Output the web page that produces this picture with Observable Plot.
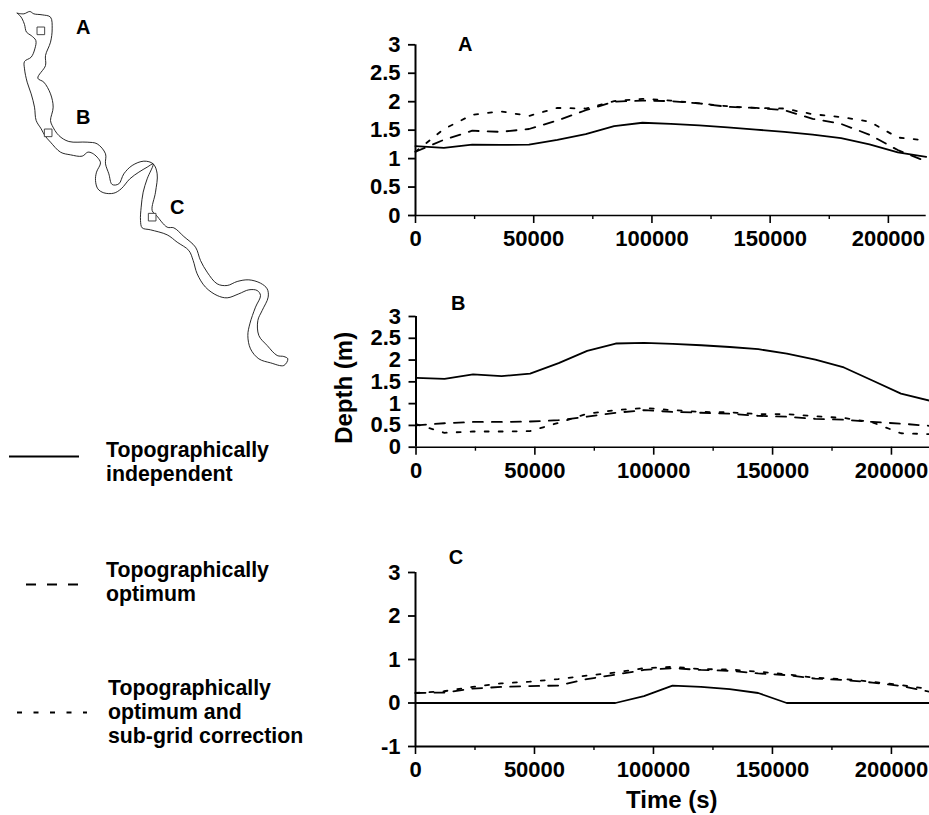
<!DOCTYPE html>
<html><head><meta charset="utf-8">
<script src="https://cdn.jsdelivr.net/npm/d3@7"></script>
<script src="https://cdn.jsdelivr.net/npm/@observablehq/plot@0.6"></script>
<style>
html,body{margin:0;padding:0;background:#fff;overflow:hidden;width:929px;height:815px}
#page{position:relative;width:929px;height:815px;font-family:"Liberation Sans",Arial,sans-serif;font-weight:bold;color:#000}
#page>svg{position:absolute;overflow:visible}
.leg{position:absolute;font-size:21.3px;line-height:24px;white-space:nowrap}
</style></head><body><div id="page"></div>
<script>
const times = [0,12000,24000,36000,48000,60000,72000,84000,96000,108000,120000,132000,144000,156000,168000,180000,192000,204000,216000];
const seriesNames = ["Topographically independent","Topographically optimum","Topographically optimum and sub-grid correction"];
const dashes = ["none","10 9","4 10"];

const aIndependent = [1.22,1.19,1.245,1.24,1.245,1.33,1.43,1.57,1.63,1.61,1.585,1.55,1.51,1.47,1.42,1.36,1.25,1.11,1.03];
const aOptimum     = [1.12,1.33,1.49,1.47,1.52,1.67,1.85,2.0,2.02,2.01,1.97,1.91,1.89,1.85,1.70,1.61,1.42,1.15,0.95];
const aSubgrid     = [1.12,1.52,1.77,1.83,1.75,1.89,1.88,2.01,2.05,2.02,1.97,1.92,1.89,1.88,1.78,1.73,1.65,1.37,1.32];

const bIndependent = [1.59,1.57,1.67,1.63,1.69,1.93,2.21,2.38,2.395,2.37,2.34,2.30,2.25,2.15,2.01,1.83,1.53,1.23,1.07];
const bOptimum     = [0.5,0.55,0.58,0.58,0.59,0.62,0.70,0.79,0.85,0.81,0.79,0.77,0.72,0.70,0.65,0.63,0.58,0.54,0.49];
const bSubgrid     = [0.53,0.33,0.36,0.36,0.37,0.56,0.77,0.85,0.90,0.85,0.81,0.80,0.76,0.76,0.71,0.67,0.57,0.32,0.30];

const cIndependent = [0,0,0,0,0,0,0,0,0.16,0.40,0.37,0.32,0.23,0,0,0,0,0,0];
const cOptimum     = [0.23,0.24,0.33,0.37,0.39,0.40,0.55,0.65,0.76,0.80,0.76,0.74,0.68,0.64,0.56,0.53,0.47,0.39,0.26];
const cSubgrid     = [0.23,0.27,0.37,0.45,0.49,0.55,0.63,0.70,0.80,0.83,0.78,0.77,0.72,0.66,0.58,0.55,0.49,0.41,0.32];

const xMajor = [0,50000,100000,150000,200000];
const xMinor = [25000,75000,125000,175000];
const yTicksAB = [0,0.5,1,1.5,2,2.5,3];
const yTicksC = [-1,0,1,2,3];

const riverBank = [[50,38],[58,45],[65,55],[72,72],[78,95],[92,105],[106,120],[103,145],[92,170],[72,183],[72,205],[80,245],[92,280],[102,320],[107,360],[122,385],[133,405],[150,425],[180,455],[210,463],[245,467],[262,455],[275,458],[290,470],[300,487],[288,515],[285,540],[292,565],[310,577],[340,578],[362,565],[388,535],[415,515],[440,500],[458,490],[440,535],[428,575],[422,620],[420,660],[425,682],[450,688],[500,703],[530,725],[565,750],[578,780],[590,820],[615,860],[650,885],[680,892],[715,880],[745,868],[770,870],[780,885],[765,920],[748,970],[742,1005],[750,1045],[775,1075],[810,1087],[850,1095],[862,1075],[850,1068],[830,1065],[800,1035],[775,1005],[772,960],[785,930],[803,890],[800,865],[780,848],[745,838],[710,843],[680,855],[650,850],[620,815],[600,780],[585,740],[550,708],[520,682],[500,680],[468,645],[455,630],[465,575],[470,520],[458,490],[430,482],[395,495],[370,520],[355,550],[335,552],[325,520],[315,490],[315,460],[290,430],[260,425],[205,423],[175,405],[155,375],[150,360],[158,320],[150,280],[130,245],[112,233],[135,195],[135,165],[150,125],[155,85],[150,50],[125,43],[100,40],[88,33],[70,40],[50,38]];
const gauges = [{name:"A",x:121,y:91,lx:248,ly:82},{name:"B",x:143,y:397,lx:248,ly:350},{name:"C",x:455,y:650,lx:530,ly:620}];

const page = document.getElementById("page");
const font = {fontFamily:'"Liberation Sans",Arial,sans-serif',fontWeight:"bold",background:"none",color:"#000"};
const tickFont = 22;
function place(svg,left,top){svg.style.left=left+"px";svg.style.top=top+"px";page.appendChild(svg);}

function panel({label,labelX,labelY,series,yDomain,yTicks,left,top,marginLeft,marginRight,marginTop,frameH,marginBottom,extra=[],xLine=1.6}){
  const rows = series.flatMap((vals,i)=>vals.map((v,j)=>({t:times[j],v,s:i})));
  const svg = Plot.plot({
    width:929-left,height:marginTop+frameH+marginBottom,marginLeft,marginRight,marginTop,marginBottom,
    style:font,
    x:{domain:[0,216000]},y:{domain:yDomain},
    marks:[
      Plot.axisX({ticks:xMajor,tickSize:8,tickPadding:7,tickFormat:String,strokeWidth:1.6,label:null,fontSize:tickFont,fontWeight:"bold"}),
      Plot.axisX({ticks:xMinor,tickSize:4,tickFormat:()=>"",strokeWidth:1.4,label:null}),
      Plot.axisY({ticks:yTicks,tickSize:7,tickPadding:8,tickFormat:String,strokeWidth:1.8,label:null,fontSize:tickFont,fontWeight:"bold"}),
      Plot.ruleY([yDomain[0]],{strokeWidth:xLine}),
      Plot.ruleX([0],{strokeWidth:2}),
      ...[0,1,2].map(i=>Plot.line(rows.filter(d=>d.s===i),{x:"t",y:"v",stroke:"#000",strokeWidth:1.8,strokeDasharray:dashes[i]})),
      Plot.text([label],{x:labelX,y:labelY,text:d=>d,fontSize:20,fontWeight:"bold"}),
      ...extra
    ]
  });
  place(svg,left,top);
}

panel({label:"A",labelX:21000,labelY:3,series:[aIndependent,aOptimum,aSubgrid],yDomain:[0,3],yTicks:yTicksAB,left:340,top:14,marginLeft:75,marginRight:3.3,marginTop:30.3,frameH:170.7,marginBottom:45});
panel({label:"B",labelX:17800,labelY:3.3,series:[bIndependent,bOptimum,bSubgrid],yDomain:[0,3],yTicks:yTicksAB,left:340,top:286,marginLeft:75.5,marginRight:0,marginTop:30,frameH:130.7,marginBottom:45,
  extra:[Plot.text(["Depth (m)"],{frameAnchor:"left",textAnchor:"middle",rotate:-90,dx:-72,dy:6,fontSize:24,fontWeight:"bold"})]});
panel({label:"C",labelX:17000,labelY:3.35,series:[cIndependent,cOptimum,cSubgrid],yDomain:[-1,3],yTicks:yTicksC,left:340,top:542,marginLeft:75,marginRight:0,marginTop:30,frameH:174,marginBottom:69,xLine:2.2,
  extra:[Plot.text(["Time (s)"],{x:107700,frameAnchor:"bottom",dy:61,fontSize:24,fontWeight:"bold"})]});

// Map of the river
place(Plot.plot({
  width:300,height:370,margin:0,style:font,
  x:{domain:[0,900],axis:null},y:{domain:[0,1110],reverse:true,axis:null},
  marks:[
    Plot.line(riverBank,{x:d=>d[0],y:d=>d[1],stroke:"#111",strokeWidth:0.9,curve:"catmull-rom"}),
    Plot.dot(gauges,{x:"x",y:"y",symbol:"square",r:4.3,fill:"#fff",stroke:"#333",strokeWidth:0.9}),
    Plot.text(gauges,{x:"lx",y:"ly",text:"name",fontSize:20,fontWeight:"bold"})
  ]
}),0,0);

// Legend
const legendPos = [{l:9,w:70,y:456,tx:106,ty:438,dash:"none",off:0,lines:["Topographically","independent"]},
                   {l:15,w:64,y:584,tx:106,ty:558,dash:"10 11",off:10,lines:["Topographically","optimum"]},
                   {l:17,w:70,y:712,tx:108,ty:676,dash:"5 11.5",off:0,lines:["Topographically","optimum and","sub-grid correction"]}];
legendPos.forEach((p,i)=>{
  place(Plot.plot({width:p.w,height:10,margin:0,x:{domain:[0,1],axis:null},y:{domain:[-1,1],axis:null},
    marks:[Plot.ruleY([0],{stroke:"#000",strokeWidth:1.8,strokeDasharray:p.dash,strokeDashoffset:p.off})]}),p.l,p.y-5);
  const d=document.createElement("div");d.className="leg";d.style.left=p.tx+"px";d.style.top=p.ty+"px";
  d.title=seriesNames[i];d.innerHTML=p.lines.join("<br>");page.appendChild(d);
});
</script></body></html>
